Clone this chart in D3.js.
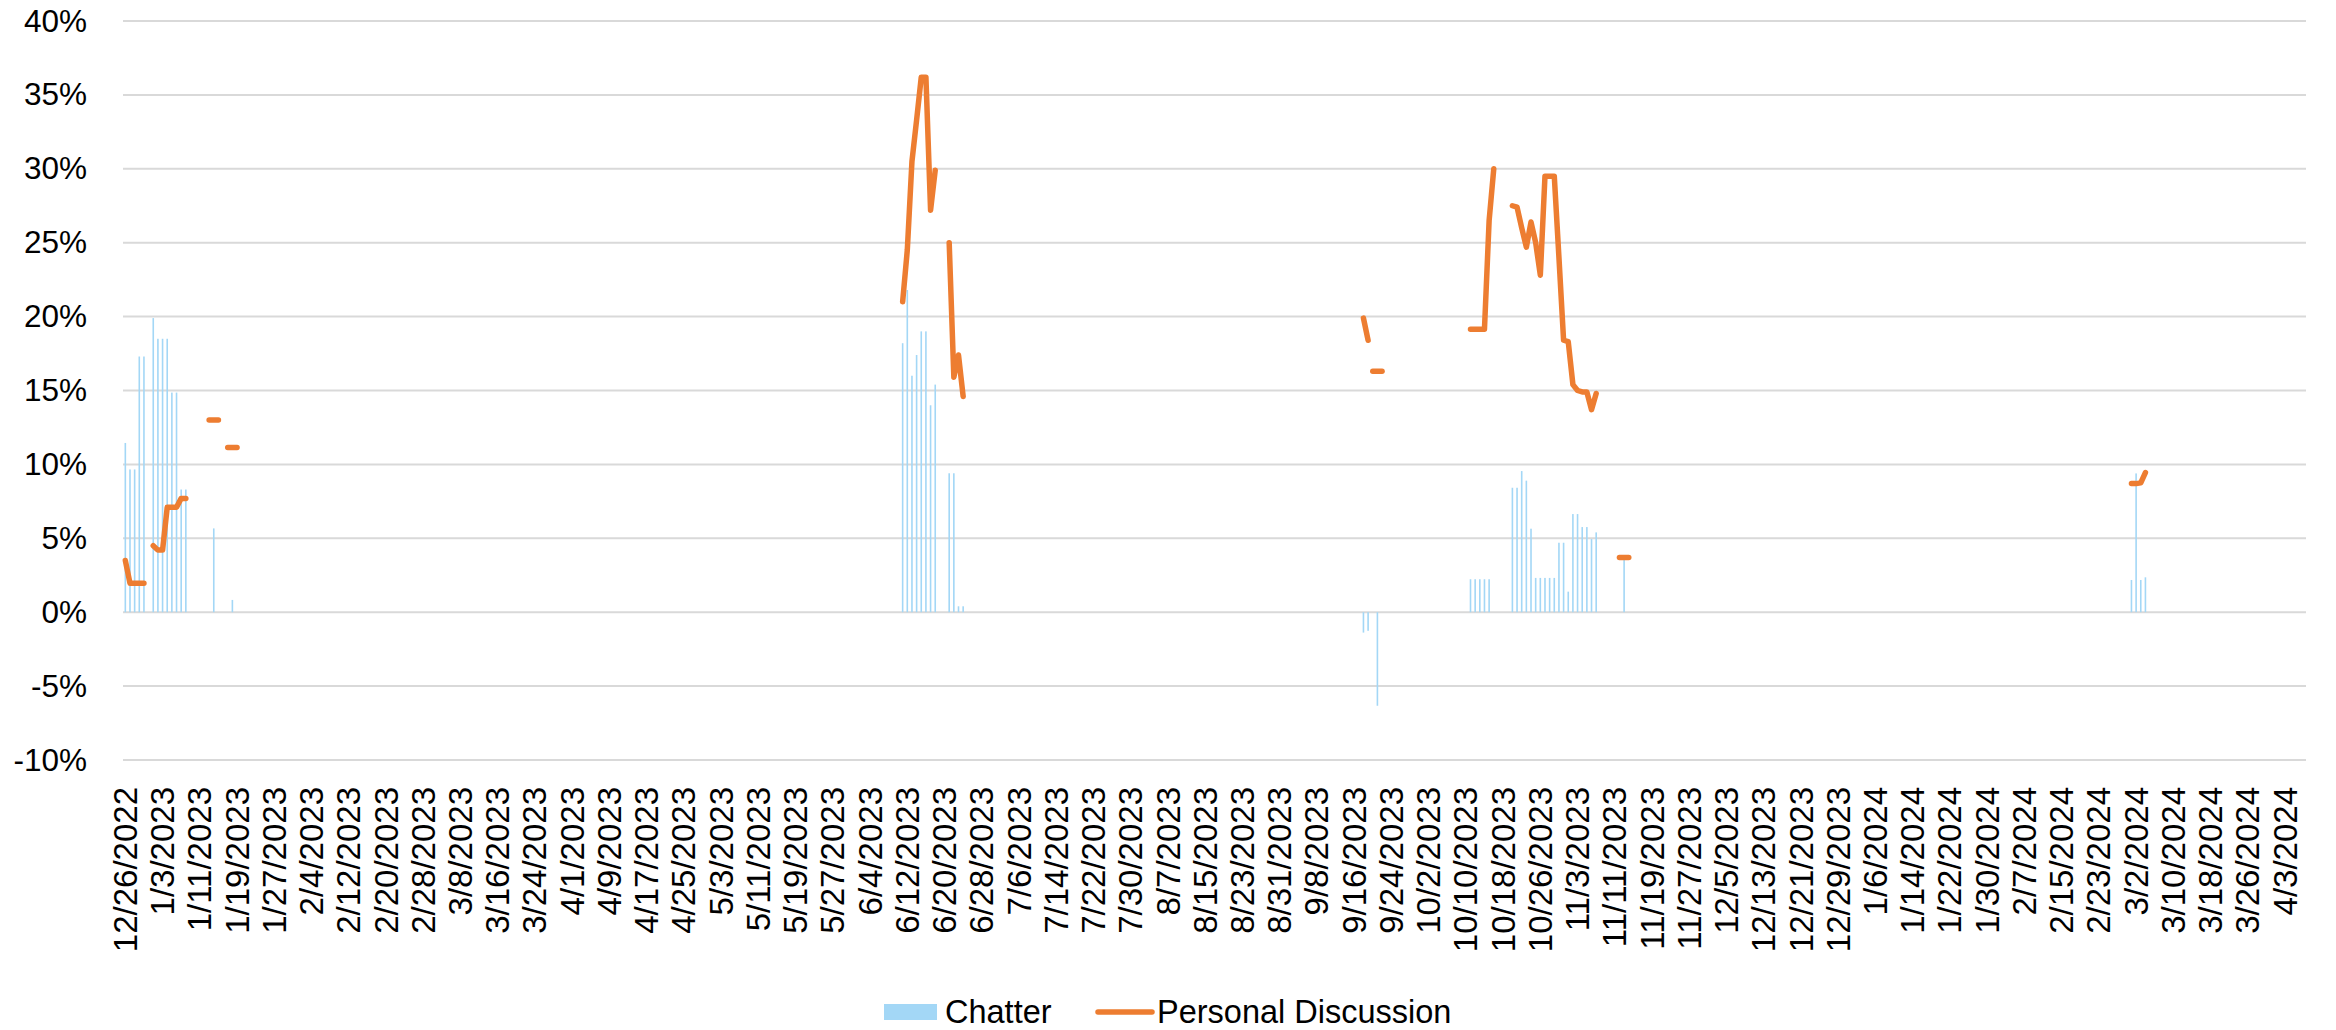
<!DOCTYPE html>
<html>
<head>
<meta charset="utf-8">
<script src="https://cdn.jsdelivr.net/npm/d3@7"></script>
<style>
    body { margin: 0; background: #fff; }
    svg { display: block; font-family: "Liberation Sans", Arial, sans-serif; }
    .grid line { stroke: #d9d9d9; stroke-width: 2; }
    .tick-label { fill: #000; }
</style>
</head>
<body>
<div id="chart"></div>
<script>
// Category axis: one category per day
const START_DATE = new Date(2022, 11, 26);
const DAY_COUNT = 469;
const LABEL_EVERY = 8;

// Y axis ticks
const yTicks = [-0.10, -0.05, 0, 0.05, 0.10, 0.15, 0.20, 0.25, 0.30, 0.35, 0.40];

// Chatter (bars)
const chatter = [
    ['12/26/2022', 0.1145], ['12/27/2022', 0.0966], ['12/28/2022', 0.0966],
    ['12/29/2022', 0.173], ['12/30/2022', 0.173],
    ['1/1/2023', 0.199], ['1/2/2023', 0.185], ['1/3/2023', 0.185], ['1/4/2023', 0.185],
    ['1/5/2023', 0.1486], ['1/6/2023', 0.1486], ['1/7/2023', 0.083], ['1/8/2023', 0.083],
    ['1/14/2023', 0.0567], ['1/18/2023', 0.0083],
    ['6/11/2023', 0.182], ['6/12/2023', 0.218], ['6/13/2023', 0.16], ['6/14/2023', 0.174],
    ['6/15/2023', 0.19], ['6/16/2023', 0.19], ['6/17/2023', 0.14], ['6/18/2023', 0.154],
    ['6/21/2023', 0.094], ['6/22/2023', 0.094], ['6/23/2023', 0.004], ['6/24/2023', 0.004],
    ['9/18/2023', -0.0138], ['9/19/2023', -0.0126], ['9/21/2023', -0.0633],
    ['10/11/2023', 0.0223], ['10/12/2023', 0.0223], ['10/13/2023', 0.0223],
    ['10/14/2023', 0.0223], ['10/15/2023', 0.0223],
    ['10/20/2023', 0.0842], ['10/21/2023', 0.0842], ['10/22/2023', 0.0955],
    ['10/23/2023', 0.089], ['10/24/2023', 0.0565],
    ['10/25/2023', 0.0232], ['10/26/2023', 0.0232], ['10/27/2023', 0.0232],
    ['10/28/2023', 0.0232], ['10/29/2023', 0.0232],
    ['10/30/2023', 0.047], ['10/31/2023', 0.047], ['11/1/2023', 0.0139],
    ['11/2/2023', 0.0664], ['11/3/2023', 0.0664], ['11/4/2023', 0.0576], ['11/5/2023', 0.0576],
    ['11/6/2023', 0.0495], ['11/7/2023', 0.054], ['11/13/2023', 0.0353],
    ['3/1/2024', 0.0218], ['3/2/2024', 0.0939], ['3/3/2024', 0.0218], ['3/4/2024', 0.0236]
];

// Personal Discussion (line), as the separate runs seen in the picture
const pdEarlyA = [['12/26/2022', 0.035], ['12/27/2022', 0.0196], ['12/28/2022', 0.0196],
    ['12/29/2022', 0.0196], ['12/30/2022', 0.0196]];
const pdEarlyB = [['1/1/2023', 0.045], ['1/2/2023', 0.042], ['1/3/2023', 0.042], ['1/4/2023', 0.071],
    ['1/5/2023', 0.071], ['1/6/2023', 0.071], ['1/7/2023', 0.077], ['1/8/2023', 0.077]];
const pdJanA = [['1/13/2023', 0.13], ['1/14/2023', 0.13], ['1/15/2023', 0.13]];
const pdJanB = [['1/17/2023', 0.1115], ['1/18/2023', 0.1115], ['1/19/2023', 0.1115]];
const pdJuneA = [['6/11/2023', 0.21], ['6/12/2023', 0.245], ['6/13/2023', 0.305], ['6/14/2023', 0.333],
    ['6/15/2023', 0.362], ['6/16/2023', 0.362], ['6/17/2023', 0.272], ['6/18/2023', 0.299]];
const pdJuneB = [['6/21/2023', 0.25], ['6/22/2023', 0.159], ['6/23/2023', 0.174], ['6/24/2023', 0.146]];
const pdSeptA = [['9/18/2023', 0.199], ['9/19/2023', 0.184]];
const pdSeptB = [['9/20/2023', 0.163], ['9/21/2023', 0.163], ['9/22/2023', 0.163]];
const pdOctA = [['10/11/2023', 0.1915], ['10/12/2023', 0.1915], ['10/13/2023', 0.1915],
    ['10/14/2023', 0.1915], ['10/15/2023', 0.265], ['10/16/2023', 0.30]];
const pdOctB = [['10/20/2023', 0.275], ['10/21/2023', 0.274], ['10/22/2023', 0.26], ['10/23/2023', 0.247],
    ['10/24/2023', 0.264], ['10/25/2023', 0.25], ['10/26/2023', 0.228],
    ['10/27/2023', 0.295], ['10/28/2023', 0.295], ['10/29/2023', 0.295],
    ['10/30/2023', 0.24], ['10/31/2023', 0.184], ['11/1/2023', 0.183],
    ['11/2/2023', 0.154], ['11/3/2023', 0.15], ['11/4/2023', 0.149], ['11/5/2023', 0.149],
    ['11/6/2023', 0.137], ['11/7/2023', 0.148]];
const pdNov = [['11/12/2023', 0.037], ['11/13/2023', 0.037], ['11/14/2023', 0.037]];
const pdMarch = [['3/1/2024', 0.087], ['3/2/2024', 0.087], ['3/3/2024', 0.0875], ['3/4/2024', 0.0945]];

const personalDiscussion = [pdEarlyA, pdEarlyB, pdJanA, pdJanB, pdJuneA, pdJuneB,
    pdSeptA, pdSeptB, pdOctA, pdOctB, pdNov, pdMarch];

const W = 2336, H = 1030;
const margin = { top: 21, right: 30, bottom: 270, left: 123 };
const plotW = W - margin.left - margin.right;
const plotH = H - margin.top - margin.bottom;

const fmt = d3.timeFormat('%-m/%-d/%Y');
const days = d3.range(DAY_COUNT).map(i => fmt(d3.timeDay.offset(START_DATE, i)));

const svg = d3.select('#chart')
    .append('svg')
    .attr('width', W)
    .attr('height', H);

svg.append('rect').attr('width', W).attr('height', H).attr('fill', '#fff');

const g = svg.append('g')
    .attr('transform', `translate(${margin.left},${margin.top})`);

const x = d3.scaleBand()
    .domain(days)
    .range([0, plotW]);

const y = d3.scaleLinear()
    .domain([-0.10, 0.40])
    .range([plotH, 0]);

// Grid
g.append('g')
    .attr('class', 'grid')
    .selectAll('line')
    .data(yTicks)
    .join('line')
    .attr('x1', 0)
    .attr('x2', plotW)
    .attr('y1', d => y(d))
    .attr('y2', d => y(d));

// Y axis labels (plain hyphen for negatives, like the original)
const yAxis = g.append('g')
    .call(d3.axisLeft(y)
        .tickValues(yTicks)
        .tickFormat(d => Math.round(d * 100) + '%')
        .tickSize(0)
        .tickPadding(36));
yAxis.select('.domain').remove();
yAxis.selectAll('text')
    .attr('class', 'tick-label')
    .attr('font-size', 31.5)
    .attr('font-family', '"Liberation Sans", Arial, sans-serif');

// X axis labels
const xAxis = g.append('g')
    .attr('transform', `translate(0,${plotH})`)
    .call(d3.axisBottom(x).tickValues(days.filter((d, i) => i % LABEL_EVERY === 0)).tickSize(0));
xAxis.select('.domain').remove();
xAxis.selectAll('text')
    .attr('class', 'tick-label')
    .attr('font-size', 33)
    .attr('font-family', '"Liberation Sans", Arial, sans-serif')
    .attr('text-anchor', 'end')
    .attr('transform', 'translate(0,27) rotate(-90)')
    .attr('x', 0)
    .attr('y', 0)
    .attr('dy', '0.35em');

// Bars
const barW = 1.6;
g.append('g')
    .selectAll('rect')
    .data(chatter)
    .join('rect')
    .attr('x', d => x(d[0]) + x.bandwidth() / 2 - barW / 2)
    .attr('width', barW)
    .attr('y', d => y(Math.max(0, d[1])))
    .attr('height', d => Math.abs(y(d[1]) - y(0)))
    .attr('fill', '#a3d7f6');

// Line runs
const line = d3.line()
    .x(d => x(d[0]) + x.bandwidth() / 2)
    .y(d => y(d[1]));

g.append('g')
    .selectAll('path')
    .data(personalDiscussion)
    .join('path')
    .attr('d', line)
    .attr('fill', 'none')
    .attr('stroke', '#ed7d31')
    .attr('stroke-width', 5.5)
    .attr('stroke-linejoin', 'round')
    .attr('stroke-linecap', 'round');

// Legend
const legend = svg.append('g').attr('transform', 'translate(0,1012)');
legend.append('rect')
    .attr('x', 884).attr('y', -8).attr('width', 53).attr('height', 16)
    .attr('fill', '#a3d7f6');
legend.append('text')
    .attr('x', 945).attr('y', 0).attr('dy', '0.35em')
    .attr('font-size', 32.5)
    .text('Chatter');
legend.append('line')
    .attr('x1', 1098).attr('x2', 1152).attr('y1', 0).attr('y2', 0)
    .attr('stroke', '#ed7d31').attr('stroke-width', 5.5).attr('stroke-linecap', 'round');
legend.append('text')
    .attr('x', 1157).attr('y', 0).attr('dy', '0.35em')
    .attr('font-size', 32.5)
    .text('Personal Discussion');
</script>
</body>
</html>
